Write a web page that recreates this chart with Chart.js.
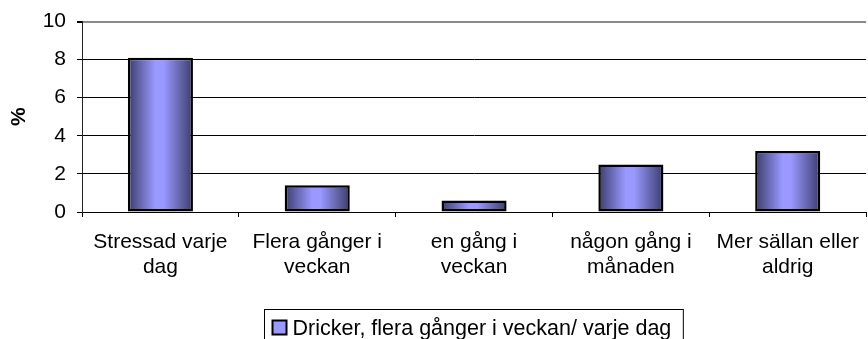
<!DOCTYPE html>
<html>
<head>
<meta charset="utf-8">
<script src="https://cdn.jsdelivr.net/npm/chart.js@4"></script>
<style>
  html, body { margin: 0; padding: 0; background: #fff; overflow: hidden; }
  #wrap { width: 872px; height: 339px; }
</style>
</head>
<body>
<div id="wrap"><canvas id="myChart"></canvas></div>
<script>
// Stress vs drinking, share in %
const categories = [
  ["Stressad varje", "dag"],
  ["Flera gånger i", "veckan"],
  ["en gång i", "veckan"],
  ["någon gång i", "månaden"],
  ["Mer sällan eller", "aldrig"],
];
const seriesName = "Dricker, flera gånger i veckan/ varje dag";
const values = [8.1, 1.4, 0.6, 2.5, 3.2];
const yTicks = [0, 2, 4, 6, 8, 10];

const FONT = "'Liberation Sans', Arial, sans-serif";
const barShare = 0.415;

// shaded fill across each bar, dark at the edges and light in the middle
function barFill(c) {
  const chart = c.chart;
  if (!chart.chartArea || c.dataIndex === undefined) return "#9999ff";
  const xs = chart.scales.x;
  const cx = xs.getPixelForValue(c.dataIndex);
  const half = (xs.width / categories.length) * barShare / 2;
  const g = chart.ctx.createLinearGradient(cx - half, 0, cx + half, 0);
  g.addColorStop(0, "#3c3c6c");
  g.addColorStop(0.42, "#9999ff");
  g.addColorStop(0.55, "#9999ff");
  g.addColorStop(1, "#3c3c6c");
  return g;
}

// boxed legend under the axis labels
const boxLegend = {
  id: "boxLegend",
  afterDraw(chart) {
    const ctx = chart.ctx;
    const area = chart.chartArea;
    ctx.save();
    ctx.font = "21.5px " + FONT;
    const tw = ctx.measureText(seriesName).width;
    const w = tw + 40;
    const left = Math.round((area.left + area.right) / 2 - w / 2) - 0.5;
    const top = area.bottom + 97.5;
    ctx.strokeStyle = "#000";
    ctx.lineWidth = 1;
    ctx.strokeRect(left, top, w, 50);
    ctx.fillStyle = "#9999ff";
    ctx.fillRect(left + 8, top + 11, 14, 14);
    ctx.lineWidth = 2;
    ctx.strokeRect(left + 8, top + 11, 14, 14);
    ctx.fillStyle = "#000";
    ctx.textBaseline = "alphabetic";
    ctx.fillText(seriesName, left + 28, top + 25);
    ctx.restore();
  },
};

new Chart(document.getElementById("myChart"), {
  type: "bar",
  data: {
    labels: categories,
    datasets: [
      {
        label: seriesName,
        data: values,
        backgroundColor: barFill,
        borderColor: "#000",
        borderWidth: 2.5,
        borderSkipped: false,
        barPercentage: barShare,
        categoryPercentage: 1,
      },
    ],
  },
  options: {
    responsive: true,
    maintainAspectRatio: false,
    animation: false,
    layout: { padding: { left: 0, right: 1, top: 16, bottom: 0 } },
    plugins: {
      legend: { display: false },
      tooltip: { enabled: false },
    },
    scales: {
      x: {
        offset: true,
        grid: {
          offset: true,
          drawOnChartArea: false,
          drawTicks: true,
          tickLength: 5,
          color: "#000",
        },
        border: { color: "#000", width: 1 },
        ticks: {
          color: "#000",
          padding: 13,
          maxRotation: 0,
          autoSkip: false,
          font: { family: FONT, size: 21, lineHeight: 1.19 },
        },
        afterFit(scale) {
          scale.height = 127;
        },
      },
      y: {
        min: 0,
        max: 10,
        afterBuildTicks(scale) {
          scale.ticks = yTicks.map((v) => ({ value: v }));
        },
        grid: {
          color: (c) => (c.tick && c.tick.value === 10 ? "#8a8a8a" : "#000"),
          lineWidth: (c) => (c.tick && c.tick.value === 10 ? 2 : 1),
          tickColor: "#000",
          tickLength: 5,
        },
        border: { color: "#222", width: 1 },
        ticks: {
          color: "#000",
          padding: 11,
          font: { family: FONT, size: 21, lineHeight: 1 },
        },
        title: {
          display: true,
          text: "%",
          color: "#000",
          padding: { top: 7, bottom: 0 },
          font: { family: FONT, size: 21, weight: "bold" },
        },
        afterFit(scale) {
          scale.width = 82;
        },
      },
    },
  },
  plugins: [boxLegend],
});
</script>
</body>
</html>
